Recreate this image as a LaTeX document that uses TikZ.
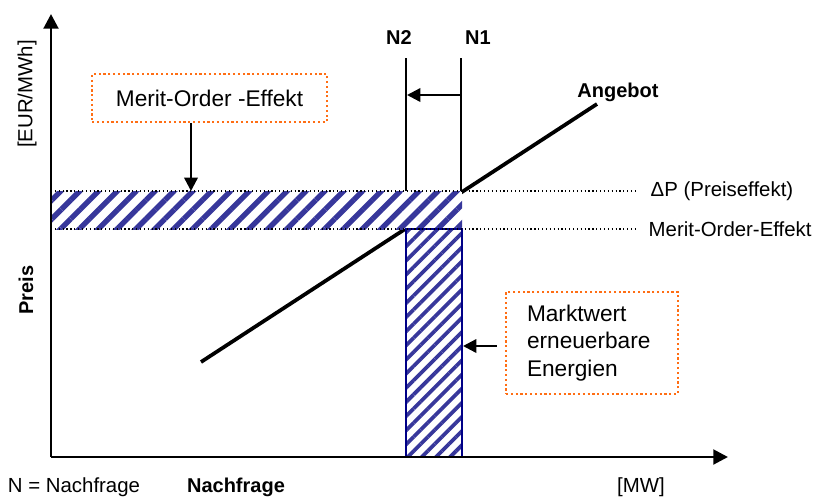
\documentclass[tikz,border=0pt]{standalone}
\usepackage{fontspec}
\setmainfont{Liberation Sans}
\usetikzlibrary{arrows.meta,patterns.meta,positioning}
\definecolor{streifen}{RGB}{55,55,155}
\definecolor{rahmenblau}{RGB}{0,0,135}
\definecolor{boxorange}{RGB}{255,110,20}

\begin{document}
\begin{tikzpicture}[x=0.75pt,y=-0.75pt,
    achse/.style={line width=2.2pt,-{Triangle[length=11pt,width=11pt]}},
    pfeil/.style={line width=1.8pt,-{Triangle[length=10pt,width=10pt]}},
    hinweis/.style={draw=boxorange,dotted,line width=1.6pt,inner sep=0pt,font=\fontsize{17}{20.6}\selectfont},
    beschr/.style={font=\fontsize{15.3}{18}\selectfont},
    fett/.style={font=\fontsize{15}{18}\selectfont\bfseries},
    punkte/.style={dotted,line width=0.9pt}]
    \useasboundingbox (0,0) rectangle (816,497);

    % Angebotskurve
    \coordinate (a1) at (201,362);
    \coordinate (a2) at (597,104);
    \draw[line width=2.8pt] (a1) -- (a2);
    \node[fett] (angebot) at (618,92) {Angebot};

    % Schraffierte Flaechen
    \fill[white] (51,191) rectangle (462,229);
    \fill[pattern={Lines[angle=45,distance=10pt,line width=4pt]},pattern color=streifen]
        (51,191) rectangle (462,229);
    \draw[rahmenblau,line width=1.6pt,fill=white] (406,229) rectangle (462,457);
    \draw[rahmenblau,line width=1.6pt,pattern={Lines[angle=45,distance=7.5pt,line width=2.8pt]},pattern color=streifen]
        (406,229) rectangle (462,457);

    % Preisniveaus
    \coordinate (p1) at (638,191);
    \coordinate (p2) at (638,229);
    \draw[punkte] (51,191) -- (p1);
    \draw[punkte] (51,229) -- (p2);
    \node[beschr,anchor=west] (preiseffekt) at (646,191) {ΔP (Preiseffekt)};
    \node[beschr,anchor=west] (moeffekt) at (644,229) {Merit-Order-Effekt};

    % Achsen
    \coordinate (o) at (51,457);
    \coordinate (ytop) at (51,14);
    \coordinate (xend) at (728,457);
    \draw[achse] (o) -- (ytop);
    \draw[achse] (o) -- (xend);
    \node[beschr,rotate=90] (einheit) at (27,94) {[EUR/MWh]};
    \node[fett,rotate=90] (preis) at (26,290) {Preis};
    \node[beschr] (mw) at (641,487) {[MW]};
    \node[fett] (nachfrage) at (236,487) {Nachfrage};
    \node[beschr] (legende) at (74,487) {N = Nachfrage};

    % Nachfrage N1 und N2
    \coordinate (n2oben) at (406,58);
    \coordinate (n1oben) at (461,58);
    \draw[line width=1.5pt] (n2oben) -- (406,191);
    \draw[line width=1.5pt] (n1oben) -- (461,191);
    \node[fett] (n2) at (399,38) {N2};
    \node[fett] (n1) at (478,38) {N1};
    \coordinate (v1) at (461,95);
    \coordinate (v2) at (407,95);
    \draw[pfeil] (v1) -- (v2);

    % Erlaeuterungen
    \node[hinweis,minimum width=176pt,minimum height=36pt] (mobox) at (209.5,98) {Merit-Order -Effekt};
    \coordinate (moziel) at (191,191);
    \draw[pfeil] (mobox.south -| moziel) -- (moziel);

    \node[hinweis,minimum width=129pt,minimum height=76.5pt,inner xsep=15.75pt,
          text width=97.5pt,align=left] (marktwert) at (592,343)
          {Marktwert\\erneuerbare\\Energien};
    \coordinate (rechteck) at (463,346);
    \draw[pfeil] ([xshift=-6pt]marktwert.west |- rechteck) -- (rechteck);
\end{tikzpicture}
\end{document}
